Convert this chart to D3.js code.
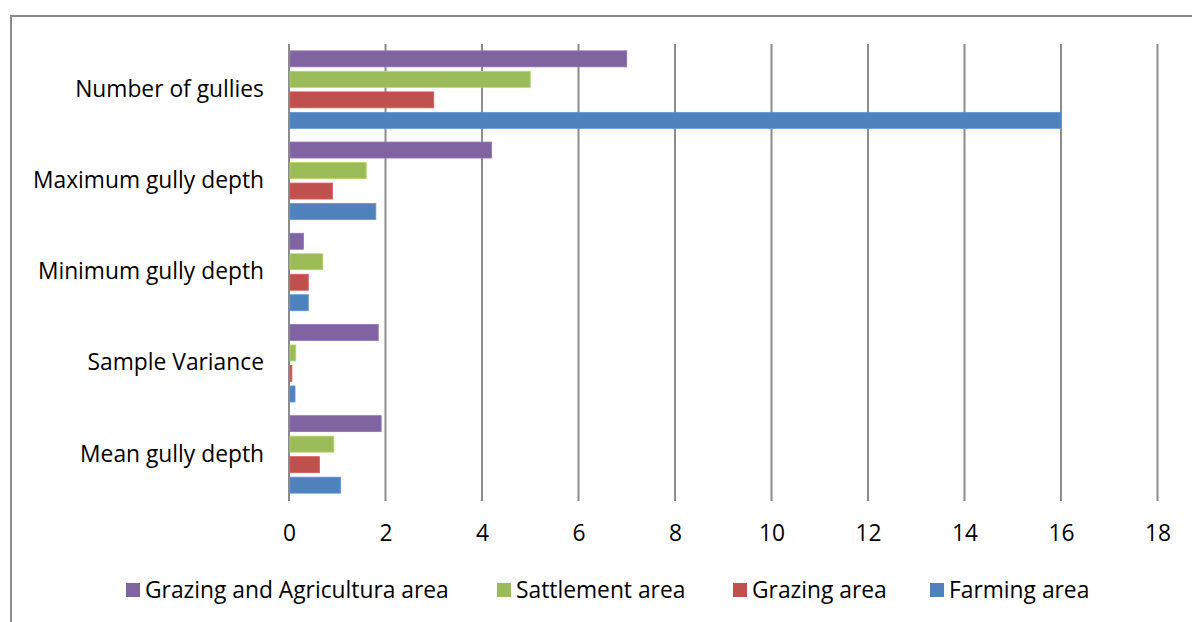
<!DOCTYPE html>
<html>
<head>
<meta charset="utf-8">
<script src="https://cdn.jsdelivr.net/npm/d3@7"></script>
<style>
  html, body { margin: 0; padding: 0; background: #fff; }
  svg { display: block; }
  text { font-family: "Open Sans", Lato, sans-serif; fill: #000; }
</style>
</head>
<body>
<svg id="chart" width="1192" height="622"></svg>
<script>
const categories = ["Number of gullies", "Maximum gully depth", "Minimum gully depth", "Sample Variance", "Mean gully depth"];
const seriesNames = ["Grazing and Agricultura area", "Sattlement area", "Grazing area", "Farming area"];
const seriesColors = ["#8064A2", "#9BBB59", "#C0504D", "#4F81BD"];
const grazingAgriValues = [7, 4.2, 0.3, 1.85, 1.91];
const settlementValues = [5, 1.6, 0.7, 0.14, 0.93];
const grazingValues = [3, 0.9, 0.4, 0.06, 0.63];
const farmingValues = [16, 1.8, 0.4, 0.125, 1.07];
const xTicks = [0, 2, 4, 6, 8, 10, 12, 14, 16, 18];

const seriesValues = [grazingAgriValues, settlementValues, grazingValues, farmingValues];
const FONT = "'Open Sans', Lato, sans-serif";
const FS = 22.8;

const svg = d3.select("#chart");

// outer border
svg.append("path")
  .attr("d", "M11,640 L11,16 L1200,16")
  .attr("fill", "none").attr("stroke", "#8a8a8a").attr("stroke-width", 2);

const x = d3.scaleLinear().domain([0, 18]).range([289, 1157.5]);
const y = d3.scaleBand().domain(categories).range([44, 500]).paddingInner(0).paddingOuter(0);
const ySub = d3.scaleBand().domain(seriesNames).range([0, y.bandwidth()]).paddingInner(0.22).paddingOuter(0.334);

// gridlines
svg.append("g").selectAll("line").data(xTicks).join("line")
  .attr("x1", d => x(d)).attr("x2", d => x(d))
  .attr("y1", 44).attr("y2", 501)
  .attr("stroke", "#8c8c8c").attr("stroke-width", 2);

// x axis labels
const xAxis = d3.axisBottom(x).tickValues(xTicks).tickSize(0).tickPadding(0);
const gx = svg.append("g").attr("transform", "translate(0,525)").call(xAxis);
gx.select(".domain").remove();
gx.selectAll("text").attr("font-size", FS).attr("font-family", FONT).attr("fill", "#000").attr("dy", "0.71em");

// y axis labels
const yAxis = d3.axisLeft(y).tickSize(0).tickPadding(0);
const gy = svg.append("g").attr("transform", "translate(264,0)").call(yAxis);
gy.select(".domain").remove();
gy.selectAll("text").attr("font-size", FS).attr("font-family", FONT).attr("fill", "#000");

// bars
seriesNames.forEach((s, si) => {
  svg.append("g").selectAll("rect").data(categories).join("rect")
    .attr("x", x(0) + 1)
    .attr("y", c => y(c) + ySub(s))
    .attr("width", (c, ci) => Math.max(0, x(seriesValues[si][ci]) - x(0) - 1))
    .attr("height", ySub.bandwidth())
    .attr("fill", seriesColors[si])
    .attr("stroke", d3.color(seriesColors[si]).brighter(0.4))
    .attr("stroke-width", 0.8);
});

// legend
const legendX = [126, 497, 733, 930];
const lg = svg.append("g");
seriesNames.forEach((s, i) => {
  lg.append("rect").attr("x", legendX[i]).attr("y", 583).attr("width", 14).attr("height", 14).attr("fill", seriesColors[i]);
  lg.append("text").attr("x", legendX[i] + 19).attr("y", 598).attr("font-size", FS).attr("font-family", FONT).text(s);
});
</script>
</body>
</html>
